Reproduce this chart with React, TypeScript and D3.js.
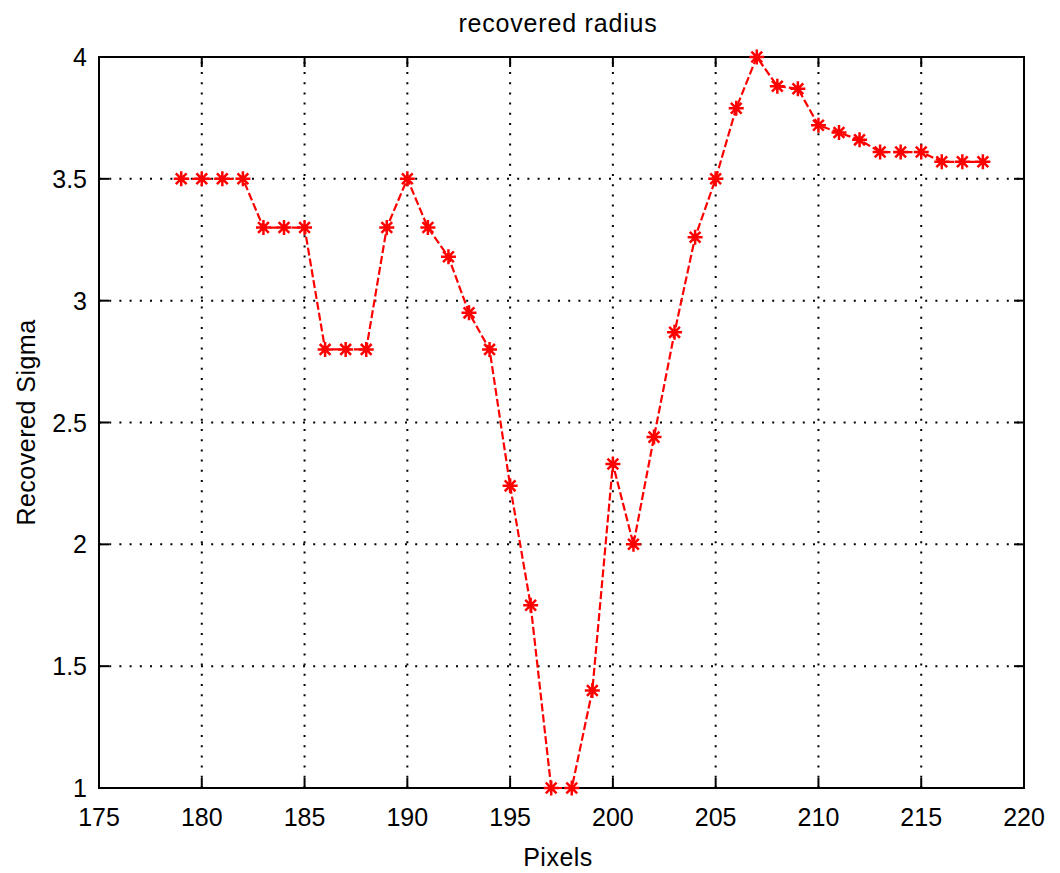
import React, { useRef, useEffect } from 'react';
import * as d3 from 'd3';

// pixel index vs recovered sigma
const pixels = [179, 180, 181, 182, 183, 184, 185, 186, 187, 188, 189, 190, 191, 192, 193, 194, 195, 196, 197, 198,
  199, 200, 201, 202, 203, 204, 205, 206, 207, 208, 209, 210, 211, 212, 213, 214, 215, 216, 217, 218];
const sigma = [3.5, 3.5, 3.5, 3.5, 3.3, 3.3, 3.3, 2.8, 2.8, 2.8, 3.3, 3.5, 3.3, 3.18, 2.95, 2.8, 2.24, 1.75, 1.0, 1.0,
  1.4, 2.33, 2.0, 2.44, 2.87, 3.26, 3.5, 3.79, 4.0, 3.88, 3.87, 3.72, 3.69, 3.66, 3.61, 3.61, 3.61, 3.57, 3.57, 3.57];
const xTicks = [175, 180, 185, 190, 195, 200, 205, 210, 215, 220];
const yTicks = [1, 1.5, 2, 2.5, 3, 3.5, 4];

export default function App() {
  const svgRef = useRef<SVGSVGElement>(null);

  useEffect(() => {
    const width = 1060;
    const height = 873;
    const marginLeft = 99;
    const marginRight = 36;
    const marginTop = 57;
    const marginBottom = 85;
    const font = "'Liberation Sans', Arial, sans-serif";

    const x = d3.scaleLinear().domain([175, 220]).range([marginLeft, width - marginRight]);
    const y = d3.scaleLinear().domain([1, 4]).range([height - marginBottom, marginTop]);

    const svg = d3.select(svgRef.current)
      .attr("width", width)
      .attr("height", height)
      .attr("viewBox", [0, 0, width, height].join(" "));
    svg.selectAll("*").remove();

    svg.append("rect").attr("width", width).attr("height", height).attr("fill", "white");

    // dotted grid
    const grid = svg.append("g").attr("stroke", "#000").attr("stroke-width", 2)
      .attr("stroke-dasharray", "2,8.2");
    grid.selectAll(".gx").data(xTicks.slice(1, -1)).join("line")
      .attr("x1", d => x(d)).attr("x2", d => x(d))
      .attr("y1", y(1)).attr("y2", y(4));
    grid.selectAll(".gy").data(yTicks.slice(1, -1)).join("line")
      .attr("class", "gy")
      .attr("y1", d => y(d)).attr("y2", d => y(d))
      .attr("x1", x(175)).attr("x2", x(220));

    // inward ticks on all four sides
    const tl = 10;
    const ticks = svg.append("g").attr("stroke", "#000").attr("stroke-width", 2);
    xTicks.forEach(t => {
      ticks.append("line").attr("x1", x(t)).attr("x2", x(t)).attr("y1", y(1)).attr("y2", y(1) - tl);
      ticks.append("line").attr("x1", x(t)).attr("x2", x(t)).attr("y1", y(4)).attr("y2", y(4) + tl);
    });
    yTicks.forEach(t => {
      ticks.append("line").attr("y1", y(t)).attr("y2", y(t)).attr("x1", x(175)).attr("x2", x(175) + tl);
      ticks.append("line").attr("y1", y(t)).attr("y2", y(t)).attr("x1", x(220)).attr("x2", x(220) - tl);
    });

    svg.append("rect")
      .attr("x", x(175)).attr("y", y(4))
      .attr("width", x(220) - x(175)).attr("height", y(1) - y(4))
      .attr("fill", "none").attr("stroke", "#000").attr("stroke-width", 2);

    // tick labels
    svg.append("g").selectAll("text").data(xTicks).join("text")
      .attr("x", d => x(d)).attr("y", y(1) + 38)
      .attr("text-anchor", "middle")
      .attr("font-family", font).attr("font-size", 25)
      .text(d => d);
    svg.append("g").selectAll("text").data(yTicks).join("text")
      .attr("x", x(175) - 12).attr("y", d => y(d) + 9)
      .attr("text-anchor", "end")
      .attr("font-family", font).attr("font-size", 25)
      .text(d => d);

    // series: dashed red line with asterisk markers
    const pts = pixels.map((p, i) => [p, sigma[i]] as [number, number]);
    const line = d3.line<[number, number]>().x(d => x(d[0])).y(d => y(d[1]));
    svg.append("path")
      .attr("d", line(pts))
      .attr("fill", "none")
      .attr("stroke", "#ff0000")
      .attr("stroke-width", 2.2)
      .attr("stroke-dasharray", "8,3");

    const r = 7.5;
    const star = `M${-r},0H${r}M0,${-r}V${r}M${-r * 0.72},${-r * 0.72}L${r * 0.72},${r * 0.72}M${-r * 0.72},${r * 0.72}L${r * 0.72},${-r * 0.72}`;
    svg.append("g").selectAll("path").data(pts).join("path")
      .attr("transform", d => `translate(${x(d[0])},${y(d[1])})`)
      .attr("d", star)
      .attr("stroke", "#ff0000")
      .attr("stroke-width", 2.5)
      .attr("fill", "none");

    // titles
    svg.append("text")
      .attr("x", 558).attr("y", 32)
      .attr("text-anchor", "middle")
      .attr("font-family", font).attr("font-size", 25)
      .attr("letter-spacing", 0.8)
      .text("recovered radius");
    svg.append("text")
      .attr("x", 558).attr("y", 866)
      .attr("text-anchor", "middle")
      .attr("font-family", font).attr("font-size", 25)
      .attr("letter-spacing", 0.5)
      .text("Pixels");
    svg.append("text")
      .attr("transform", `translate(35,${(y(1) + y(4)) / 2}) rotate(-90)`)
      .attr("text-anchor", "middle")
      .attr("font-family", font).attr("font-size", 25)
      .attr("letter-spacing", 0.5)
      .text("Recovered Sigma");
  }, []);

  return (
    <div>
      <svg ref={svgRef} style={{ position: 'absolute', left: 0, top: 0, display: 'block' }}></svg>
    </div>
  );
}
